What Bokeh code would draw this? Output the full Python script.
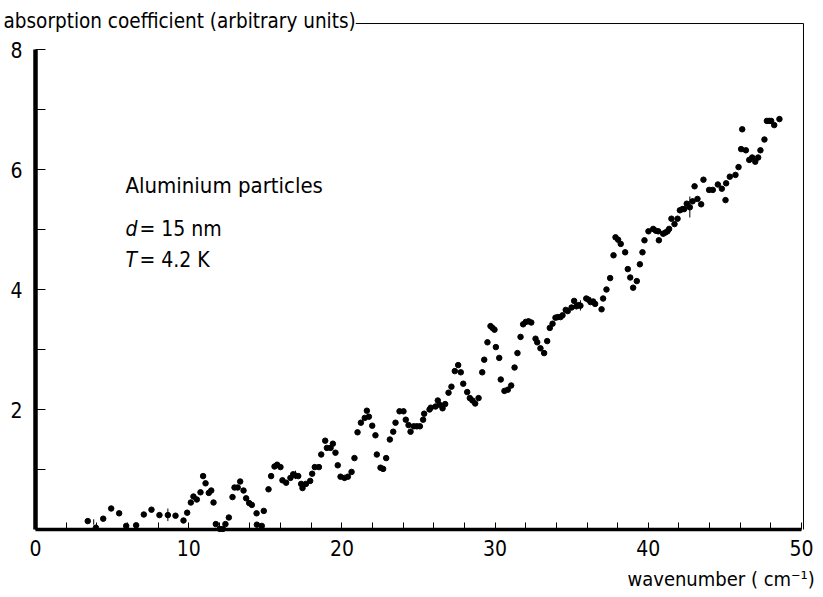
from bokeh.plotting import figure
from bokeh.models import Range1d, FixedTicker, Label
from bokeh.embed import file_html
from bokeh.resources import INLINE

# ---- data ----
wavenumber = [
    3.41, 3.94, 4.42, 4.94, 5.46, 5.92, 6.57, 7.07, 7.57, 8.09, 8.64, 9.14, 9.66, 9.90,
    10.14, 10.31, 10.53, 10.77, 10.94, 11.10, 11.31, 11.47, 11.62, 11.77, 12.03, 12.23,
    12.40, 12.62, 12.86, 12.99, 13.20, 13.36, 13.58, 13.75, 13.95, 14.12, 14.43, 14.45,
    14.77, 14.90, 15.21, 15.38, 15.60, 15.77, 15.99, 16.12, 16.36, 16.64, 16.82, 16.97,
    17.15, 17.34, 17.43, 17.65, 17.93, 18.06, 18.23, 18.50, 18.65, 18.91, 19.02, 19.26,
    19.41, 19.58, 19.73, 19.91, 20.17, 20.39, 20.63, 20.82, 21.02, 21.24, 21.49, 21.63,
    21.76, 21.98, 22.19, 22.28, 22.52, 22.69, 22.89, 23.13, 23.35, 23.50, 23.76, 24.02,
    24.17, 24.35, 24.48, 24.69, 24.89, 25.09, 25.30, 25.37, 25.72, 25.80, 26.11, 26.26,
    26.37, 26.57, 26.74, 26.96, 27.15, 27.37, 27.59, 27.76, 27.92, 28.18, 28.35, 28.52,
    28.70, 28.92, 29.16, 29.29, 29.50, 29.70, 29.83, 29.96, 30.05, 30.27, 30.37, 30.61,
    30.83, 31.05, 31.27, 31.46, 31.66, 31.83, 32.00, 32.18, 32.36, 32.64, 32.75, 32.96,
    33.20, 33.40, 33.57, 33.75, 33.94, 34.09, 34.27, 34.40, 34.61, 34.74, 34.99, 35.16,
    35.31, 35.46, 35.57, 35.95, 36.10, 36.23, 36.40, 36.53, 36.95, 37.05, 37.27, 37.51,
    37.73, 37.86, 38.03, 38.20, 38.49, 38.66, 38.82, 39.01, 39.25, 39.45, 39.62, 39.75,
    40.01, 40.32, 40.49, 40.65, 40.69, 40.97, 41.12, 41.25, 41.36, 41.51, 41.71, 41.91,
    42.06, 42.23, 42.34, 42.51, 42.71, 42.89, 43.02, 43.21, 43.45, 43.60, 43.97, 44.21,
    44.54, 44.80, 45.04, 45.08, 45.32, 45.69, 45.89, 46.06, 46.13, 46.37, 46.59, 46.78,
    46.98, 47.17, 47.32, 47.58, 47.74, 47.89, 48.02, 48.22, 48.56,
]
absorption = [
    0.14, 0.03, 0.18, 0.35, 0.27, 0.06, 0.07, 0.25, 0.33, 0.24, 0.24, 0.23, 0.15, 0.28,
    0.45, 0.55, 0.50, 0.62, 0.89, 0.77, 0.61, 0.65, 0.45, 0.09, 0.01, 0.01,
    0.09, 0.20, 0.54, 0.70, 0.70, 0.80, 0.65, 0.52, 0.44, 0.41, 0.27, 0.08,
    0.06, 0.31, 0.67, 0.89, 1.05, 1.08, 1.04, 0.82, 0.78, 0.86, 0.92, 0.90,
    0.89, 0.76, 0.69, 0.76, 0.81, 0.93, 1.04, 1.04, 1.25, 1.48, 1.36, 1.36,
    1.43, 1.28, 1.07, 0.88, 0.86, 0.88, 0.96, 1.19, 1.62, 1.78, 1.86, 1.98,
    1.88, 1.73, 1.57, 1.25, 1.03, 1.01, 1.19, 1.50, 1.63, 1.78, 1.97, 1.97,
    1.83, 1.74, 1.63, 1.72, 1.72, 1.72, 1.83, 1.93, 2.00, 2.03, 2.05, 2.15,
    2.08, 2.02, 2.09, 2.28, 2.38, 2.64, 2.74, 2.62, 2.43, 2.29, 2.19, 2.15,
    2.10, 2.19, 2.62, 2.83, 3.12, 3.39, 3.36, 3.33, 3.04, 2.86, 2.50, 2.31,
    2.33, 2.40, 2.70, 2.94, 3.21, 3.42, 3.46, 3.47, 3.45, 3.18, 3.12, 3.02,
    2.94, 3.14, 3.36, 3.43, 3.53, 3.54, 3.54, 3.57, 3.66, 3.64, 3.70, 3.81,
    3.72, 3.74, 3.73, 3.85, 3.83, 3.79, 3.80, 3.76, 3.67, 3.85, 4.00, 4.19,
    4.57, 4.87, 4.83, 4.76, 4.62, 4.34, 4.20, 4.03, 4.14, 4.42, 4.62, 4.82,
    4.97, 5.01, 4.98, 4.97, 4.82, 4.93, 4.95, 4.97, 5.01, 5.18, 5.09, 5.18,
    5.32, 5.34, 5.34, 5.43, 5.37, 5.47, 5.72, 5.51, 5.42, 5.83, 5.66, 5.66,
    5.75, 5.68, 5.49, 5.77, 5.88, 5.91, 6.04, 6.34, 6.67, 6.32, 6.16, 6.20,
    6.13, 6.20, 6.32, 6.50, 6.81, 6.81, 6.81, 6.74, 6.84,
]
# error bars
err_x = [3.80, 8.64, 16.97, 35.57, 42.71]
err_lo = [0.08, 0.14, 0.84, 3.65, 5.20]
err_hi = [0.17, 0.35, 0.98, 3.82, 5.55]

x_ticks = list(range(0, 51, 2))
x_tick_labels = {t: (str(t) if t % 10 == 0 else "") for t in x_ticks}
y_ticks = list(range(0, 9))
y_tick_labels = {t: (str(t) if t in (2, 4, 6, 8) else "") for t in y_ticks}

# box drawn around the data region (top and right sides)
box_x = [0, 50.13, 50.13]
box_y = [8.433, 8.433, 0]

FONT = "DejaVu Sans Condensed"

p = figure(width=823, height=597, output_backend="svg", toolbar_location=None,
           x_range=Range1d(-2.2846, 51.436), y_range=Range1d(-1.1333, 8.8167),
           min_border=0)
p.grid.visible = False
p.outline_line_color = None
p.background_fill_color = "white"
p.border_fill_color = "white"

xa = p.xaxis[0]
xa.fixed_location = 0
xa.ticker = FixedTicker(ticks=x_ticks)
xa.major_label_overrides = x_tick_labels
xa.bounds = (0, 50)
xa.axis_line_width = 3.5
xa.axis_line_color = "black"
xa.major_tick_in = 7
xa.major_tick_out = 0
xa.major_tick_line_width = 1
xa.minor_tick_line_color = None
xa.major_label_standoff = 10
xa.major_label_text_font = FONT
xa.major_label_text_font_size = "21px"
xa.major_label_text_color = "black"

ya = p.yaxis[0]
ya.fixed_location = 0
ya.ticker = FixedTicker(ticks=y_ticks)
ya.major_label_overrides = y_tick_labels
ya.bounds = (0, 8)
ya.axis_line_width = 4.5
ya.axis_line_color = "black"
ya.major_tick_in = 10
ya.major_tick_out = 0
ya.major_tick_line_width = 1
ya.minor_tick_line_color = None
ya.major_label_standoff = 13
ya.major_label_text_font = FONT
ya.major_label_text_font_size = "21px"
ya.major_label_text_color = "black"

p.line(box_x, box_y, line_color="black", line_width=1)
p.segment(x0=err_x, y0=err_lo, x1=err_x, y1=err_hi, line_color="black", line_width=1)
p.scatter(wavenumber, absorption, size=5.5, fill_color="black", line_color="black")

# axis titles
p.add_layout(Label(x=-2.09, y=8.467, text="absorption coefficient (arbitrary units)",
                   text_font=FONT, text_font_size="20.5px", text_baseline="alphabetic",
                   background_fill_color="white", text_color="black"))
p.add_layout(Label(x=51.24, y=-0.833, text="wavenumber  ( cm\u207b\u00b9)",
                   text_font=FONT, text_font_size="20px", text_baseline="alphabetic",
                   text_align="right", text_color="black"))
# annotation block
p.add_layout(Label(x=5.87, y=5.733, text="Aluminium  particles", text_font=FONT,
                   text_font_size="22px", text_baseline="alphabetic", text_color="black"))
p.add_layout(Label(x=5.87, y=5.016, text="d", text_font=FONT, text_font_style="italic",
                   text_font_size="21px", text_baseline="alphabetic", text_color="black"))
p.add_layout(Label(x=5.87, y=5.016, x_offset=14, text="= 15 nm", text_font=FONT,
                   text_font_size="21px", text_baseline="alphabetic", text_color="black"))
p.add_layout(Label(x=5.87, y=4.5, text="T", text_font=FONT, text_font_style="italic",
                   text_font_size="21px", text_baseline="alphabetic", text_color="black"))
p.add_layout(Label(x=5.87, y=4.5, x_offset=14, text="= 4.2 K", text_font=FONT,
                   text_font_size="21px", text_baseline="alphabetic", text_color="black"))

open("out.html", "w").write(file_html(p, INLINE))
